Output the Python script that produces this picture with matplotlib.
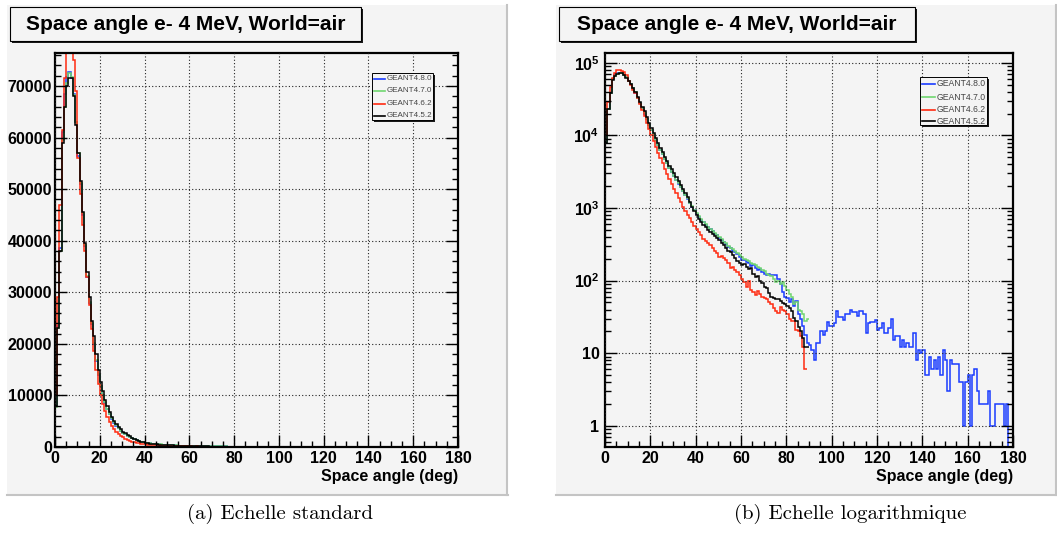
"""
Space angle e- 4 MeV, World=air : comparaison GEANT4 (échelle standard / log)
"""
import numpy as np
import matplotlib.pyplot as plt
from matplotlib.patches import Rectangle
from matplotlib.ticker import MultipleLocator, FixedLocator, FixedFormatter, NullFormatter

plt.rcParams['font.family'] = ['Liberation Sans', 'DejaVu Sans']
plt.rcParams['mathtext.fontset'] = 'custom'
plt.rcParams['mathtext.bf'] = 'Liberation Sans:bold'
plt.rcParams['mathtext.rm'] = 'Liberation Sans'

W, H = 1057, 540

# contenus des histos, bins de 1 deg a partir de 0
g4_5_2 = [8000, 23000, 38000, 59000, 66000, 70000, 71500, 71500, 68000, 62500,
          57000, 51500, 45500, 39500, 34000, 29000, 24500, 21500, 18000, 15000,
          12700, 10800, 9200, 7900, 6800, 5900, 5100, 4400, 3850, 3400,
          3000, 2650, 2350, 2080, 1830, 1600, 1400, 1200, 1040, 900,
          800, 710, 640, 590, 540, 500, 470, 440, 410, 390,
          360, 335, 310, 285, 260, 245, 225, 205, 185, 175,
          165, 170, 155, 145, 150, 125, 112, 115, 100, 92,
          83, 78, 68, 60, 58, 56, 55, 52, 49, 48,
          45, 42, 38, 31, 28, 23, 20, 16, 12, 12]

g4_7_0 = [7800, 23000, 38000, 59500, 66000, 70500, 72500, 71800, 68200, 63000,
          57000, 51200, 45300, 39200, 33200, 28200, 24000, 20200, 16900, 14100,
          11900, 10100, 8650, 7450, 6400, 5550, 4800, 4180, 3620, 3170,
          2800, 2470, 2200, 1950, 1730, 1530, 1360, 1190, 1060, 940,
          850, 770, 700, 650, 600, 550, 520, 490, 450, 430,
          395, 370, 345, 325, 300, 285, 270, 255, 240, 225,
          215, 200, 190, 185, 175, 170, 165, 155, 150, 140,
          135, 125, 120, 115, 105, 95, 100, 90, 95, 85,
          75, 65, 60, 48, 50, 40, 38, 35, 28, 30]

g4_6_2 = [10000, 29000, 47000, 61500, 71500, 80000, 80500, 78000, 75000, 69000,
          56000, 49000, 43000, 38000, 33000, 27500, 22800, 18600, 15000, 12200,
          10000, 8300, 6900, 5800, 4900, 4150, 3500, 2950, 2500, 2150,
          1850, 1600, 1380, 1200, 1040, 910, 800, 720, 640, 560,
          510, 470, 420, 370, 350, 330, 310, 280, 255, 240,
          215, 220, 205, 192, 175, 150, 155, 140, 130, 120,
          106, 95, 83, 100, 74, 70, 63, 72, 65, 60,
          58, 55, 50, 47, 42, 38, 36, 44, 40, 38,
          35, 30, 28, 28, 21, 20, 17, 12, 6]

g4_8_0 = [8000, 23500, 38500, 61000, 68500, 71700, 72800, 71500, 68500, 63000,
          56500, 51000, 45000, 39000, 33000, 28000, 23800, 20000, 16700, 14000,
          11800, 10000, 8600, 7400, 6350, 5500, 4750, 4150, 3600, 3150,
          2780, 2450, 2180, 1930, 1720, 1520, 1350, 1180, 1050, 930,
          840, 760, 690, 640, 590, 540, 510, 480, 440, 420,
          390, 360, 340, 320, 290, 280, 260, 250, 230, 210,
          195, 190, 180, 175, 160, 165, 150, 140, 145, 130,
          125, 120, 125, 120, 118, 120, 105, 90, 70, 60,
          58, 50, 55, 45, 52, 35, 30, 24,
          18, 14, 13, 11, 8, 14, 14, 20, 18, 20, 27, 24, 24, 26, 38, 32, 32, 29,
          35, 35, 40, 37, 37, 33, 38, 38, 35, 19, 26, 27, 27, 29, 21, 22, 26, 19,
          19, 22, 30, 15, 17, 17, 12, 15, 12, 14, 12, 12, 19, 8, 11, 10, 11, 5,
          5, 9, 6, 8, 6, 9, 5, 11, 8, 3, 8, 7, 7, 7, 4, 4, 1, 4, 5, 1, 5, 6, 3,
          2, 2, 2, 2, 3, 1, 1, 2, 2, 2, 2, 1, 2, 0, 0]

series = [("GEANT4.8.0", g4_8_0, '#1a3cff'),
          ("GEANT4.7.0", g4_7_0, '#6fd66f'),
          ("GEANT4.6.2", g4_6_2, '#ff2a10'),
          ("GEANT4.5.2", g4_5_2, 'black')]

lin_ticks = [0, 10000, 20000, 30000, 40000, 50000, 60000, 70000]
log_ticks = [1, 10, 100, 1000, 10000, 100000]
log_labels = ['1', '10', r'$\mathbf{10^{2}}$', r'$\mathbf{10^{3}}$',
              r'$\mathbf{10^{4}}$', r'$\mathbf{10^{5}}$']
x_ticks = [0, 20, 40, 60, 80, 100, 120, 140, 160, 180]

fig = plt.figure(figsize=(W / 100, H / 100), dpi=100)
fig.patch.set_facecolor('white')


def px_axes(x0, y0, x1, y1, **kw):
    return fig.add_axes([x0 / W, 1 - y1 / H, (x1 - x0) / W, (y1 - y0) / H], **kw)


bg = px_axes(0, 0, W, H, zorder=0)
bg.set_xlim(0, W)
bg.set_ylim(H, 0)
bg.axis('off')

fg = px_axes(0, 0, W, H, zorder=10)
fg.set_xlim(0, W)
fg.set_ylim(H, 0)
fg.axis('off')
fg.patch.set_alpha(0)

# fonds des canvas ROOT
for (x0, x1) in [(7, 508), (556, 1057)]:
    bg.add_patch(Rectangle((x0, 5), x1 - x0, 490, fc='#f4f4f4', ec='none'))
    bg.plot([x1 - 1, x1 - 1], [5, 495], color='#c4c4c4', lw=1.5)
    bg.plot([x0, x1], [494.5, 494.5], color='#c4c4c4', lw=1.5)


def title_box(x0, x1):
    fg.add_patch(Rectangle((x0 + 2, 9), x1 - x0, 34, fc='#1a1a1a', ec='none'))
    fg.add_patch(Rectangle((x0, 7), x1 - x0, 34, fc='#f4f4f4', ec='black', lw=0.8))
    fg.text((x0 + x1) / 2, 24.5, "Space angle e- 4 MeV, World=air", ha='center',
            va='center', fontsize=15, fontweight='bold')


def legend_box(x0, y0, x1, y1, ys, lx0, lx1, tx, fs):
    fg.add_patch(Rectangle((x0 + 2, y0 + 2), x1 - x0, y1 - y0, fc='#1a1a1a', ec='none'))
    fg.add_patch(Rectangle((x0, y0), x1 - x0, y1 - y0, fc='#f4f4f4', ec='black', lw=0.7))
    for (name, _, c), y in zip(series, ys):
        fg.plot([lx0, lx1], [y, y], color=c, lw=1.2)
        fg.text(tx, y, name, ha='left', va='center', fontsize=fs, color='#444444')


def style_axes(ax):
    ax.set_facecolor('#f4f4f4')
    for s in ax.spines.values():
        s.set_linewidth(1.6)
    ax.set_xlim(0, 180)
    ax.xaxis.set_major_locator(FixedLocator(x_ticks))
    ax.xaxis.set_minor_locator(MultipleLocator(5))
    ax.tick_params(which='both', direction='in', right=True, top=False,
                   labelsize=11.5, width=1)
    ax.tick_params(which='major', length=8.5)
    ax.tick_params(which='minor', length=4.3)
    ax.tick_params(axis='x', pad=3)
    for lab in ax.get_xticklabels() + ax.get_yticklabels():
        lab.set_fontweight('bold')
    ax.grid(True, which='major', color='#222222', lw=0.8, ls=(0, (1, 2)))
    ax.set_axisbelow(False)
    ax.set_xlabel("Space angle (deg)", fontsize=11.5, fontweight='bold', loc='right')
    ax.xaxis.set_label_coords(1.0, -0.056)


# (a) echelle standard
ax1 = px_axes(55, 53, 458, 447, zorder=5)
for name, vals, c in series:
    ax1.stairs(vals, np.arange(len(vals) + 1), color=c, lw=1.1, baseline=0)
ax1.set_ylim(0, 76400)
ax1.yaxis.set_major_locator(FixedLocator(lin_ticks))
ax1.yaxis.set_minor_locator(MultipleLocator(2000))
ax1.tick_params(axis='y', pad=2)
style_axes(ax1)

# (b) echelle log
ax2 = px_axes(605, 53, 1013, 447, zorder=5)
for name, vals, c in series:
    v = np.clip(np.array(vals, dtype=float), 0.2, None)
    ax2.stairs(v, np.arange(len(vals) + 1), color=c, lw=1.1, baseline=None)
ax2.set_yscale('log')
ax2.set_ylim(0.51, 1.37e5)
ax2.yaxis.set_major_locator(FixedLocator(log_ticks))
ax2.yaxis.set_major_formatter(FixedFormatter(log_labels))
ax2.yaxis.set_minor_locator(FixedLocator([m * 10 ** e for e in range(-1, 6) for m in range(2, 10)]))
ax2.yaxis.set_minor_formatter(NullFormatter())
ax2.tick_params(axis='y', pad=4)
style_axes(ax2)

title_box(10, 361)
title_box(559, 915)
legend_box(372, 73, 433, 120, [78.5, 91, 103.5, 115.5], 374, 385, 386.5, 5.8)
legend_box(920, 77, 987, 125, [83.5, 97, 109.5, 121], 922, 935, 937, 6.2)

fg.text(280, 514, "(a) Echelle standard", ha='center', va='center',
        fontsize=15, family='cmr10')
fg.text(850, 514, "(b) Echelle logarithmique", ha='center', va='center',
        fontsize=15, family='cmr10')

fig.savefig('out.png', dpi=100)
